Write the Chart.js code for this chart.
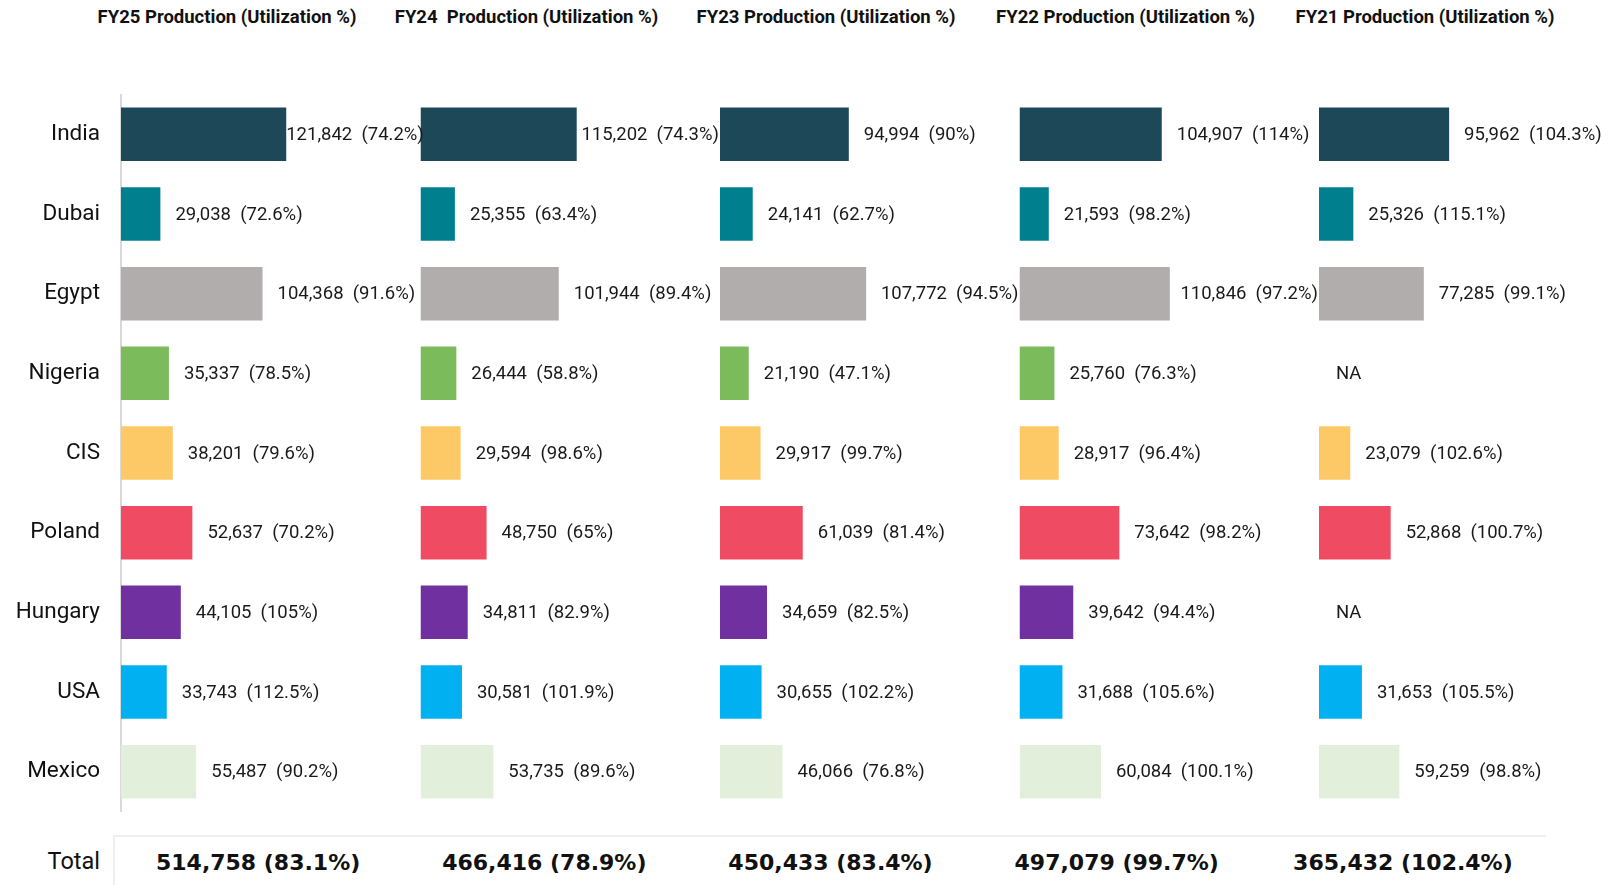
<!DOCTYPE html>
<html>
<head>
<meta charset="utf-8">
<script src="https://cdn.jsdelivr.net/npm/chart.js@4.4.0/dist/chart.umd.min.js"></script>
<style>
html,body{margin:0;padding:0;background:#fff;}
#wrap{position:relative;width:1611px;height:885px;overflow:hidden;background:#fff;}
#wrap canvas{position:absolute;top:0;}
.title{position:absolute;top:7px;line-height:20px;font-family:Roboto,sans-serif;font-weight:700;font-size:18.5px;color:#111;white-space:pre;transform:translateX(-50%);}
#totals{position:absolute;left:113px;top:835px;width:1433px;height:50px;border-top:2px solid #efefef;border-left:2px solid #efefef;display:flex;box-sizing:border-box;}
.tot{flex:1;text-align:center;font-family:'DejaVu Sans',Verdana,sans-serif;font-weight:700;font-size:22px;line-height:52px;color:#111;white-space:pre;}
#totLabel{position:absolute;left:0;width:100px;text-align:right;top:848px;line-height:26px;font-family:Roboto,sans-serif;font-size:23.5px;color:#111;}
</style>
</head>
<body>
<div id="wrap">
  <div id="totLabel">Total</div>
  <div id="totals"></div>
</div>
<script>
// ---------- data ----------
const categories = ['India','Dubai','Egypt','Nigeria','CIS','Poland','Hungary','USA','Mexico'];
const barColors = ['#1c4857','#00808f','#b0adac','#7cbb5b','#fdc966','#ef4c63','#7030a0','#00b0f0','#e2efda'];
const panelTitles = [
  'FY25 Production (Utilization %)',
  'FY24  Production (Utilization %)',
  'FY23 Production (Utilization %)',
  'FY22 Production (Utilization %)',
  'FY21 Production (Utilization %)'
];
const fy25Production  = [121842, 29038, 104368, 35337, 38201, 52637, 44105, 33743, 55487];
const fy25Utilization = [74.2, 72.6, 91.6, 78.5, 79.6, 70.2, 105, 112.5, 90.2];
const fy24Production  = [115202, 25355, 101944, 26444, 29594, 48750, 34811, 30581, 53735];
const fy24Utilization = [74.3, 63.4, 89.4, 58.8, 98.6, 65, 82.9, 101.9, 89.6];
const fy23Production  = [94994, 24141, 107772, 21190, 29917, 61039, 34659, 30655, 46066];
const fy23Utilization = [90, 62.7, 94.5, 47.1, 99.7, 81.4, 82.5, 102.2, 76.8];
const fy22Production  = [104907, 21593, 110846, 25760, 28917, 73642, 39642, 31688, 60084];
const fy22Utilization = [114, 98.2, 97.2, 76.3, 96.4, 98.2, 94.4, 105.6, 100.1];
const fy21Production  = [95962, 25326, 77285, null, 23079, 52868, null, 31653, 59259];
const fy21Utilization = [104.3, 115.1, 99.1, null, 102.6, 100.7, null, 105.5, 98.8];
const totalProduction  = [514758, 466416, 450433, 497079, 365432];
const totalUtilization = [83.1, 78.9, 83.4, 99.7, 102.4];

const panelProduction  = [fy25Production, fy24Production, fy23Production, fy22Production, fy21Production];
const panelUtilization = [fy25Utilization, fy24Utilization, fy23Utilization, fy22Utilization, fy21Utilization];

// ---------- layout ----------
const PAGE_W = 1611, PAGE_H = 885;
const PANEL0 = 121, PITCH = 299.5;
const AREA_W = 280;
const PX_PER_UNIT = 0.001356;
const X_MAX = AREA_W / PX_PER_UNIT;
const AREA_TOP = 94.5, AREA_BOTTOM = 811.5;

const fmt = v => v.toLocaleString('en-US');

const labelPlugin = {
  id: 'valueLabels',
  afterDatasetsDraw(chart) {
    const ctx = chart.ctx;
    const x = chart.scales.x, y = chart.scales.y;
    const ds = chart.data.datasets[0];
    ctx.save();
    ctx.font = '18.5px Roboto';
    ctx.fillStyle = '#1a1a1a';
    ctx.textBaseline = 'middle';
    ctx.textAlign = 'left';
    const panelRight = x.left + PITCH - 1;
    ds.data.forEach((v, idx) => {
      const yc = y.getPixelForValue(idx) + 1;
      if (v == null) { ctx.fillText('NA', x.getPixelForValue(0) + 17, yc); return; }
      const txt = fmt(v) + '  (' + ds.util[idx] + '%)';
      const end = x.getPixelForValue(v);
      const w = ctx.measureText(txt).width;
      const off = Math.max(0, Math.min(15, panelRight - end - w));
      ctx.fillText(txt, end + off, yc);
    });
    ctx.restore();
  }
};

const wrap = document.getElementById('wrap');

panelTitles.forEach((t, i) => {
  const d = document.createElement('div');
  d.className = 'title';
  d.textContent = t;
  d.style.left = (PANEL0 + PITCH * i + 106) + 'px';
  wrap.appendChild(d);
});

const totals = document.getElementById('totals');
totalProduction.forEach((v, i) => {
  const d = document.createElement('div');
  d.className = 'tot';
  d.textContent = fmt(v) + ' (' + totalUtilization[i] + '%)';
  totals.appendChild(d);
});

for (let i = 0; i < 5; i++) {
  const left = PANEL0 + PITCH * i;
  const canvasLeft = i === 0 ? 0 : Math.floor(left - 20);
  const canvasW = Math.min(480, PAGE_W - canvasLeft);
  const padLeft = left - canvasLeft;
  const padRight = canvasW - (left - canvasLeft) - AREA_W;
  const cv = document.createElement('canvas');
  cv.width = canvasW; cv.height = PAGE_H;
  cv.style.left = canvasLeft + 'px';
  cv.style.width = canvasW + 'px';
  cv.style.height = PAGE_H + 'px';
  cv.style.zIndex = 10 - i;
  wrap.appendChild(cv);

  new Chart(cv, {
    type: 'bar',
    data: {
      labels: categories,
      datasets: [{
        data: panelProduction[i],
        util: panelUtilization[i],
        backgroundColor: barColors,
        borderWidth: 0,
        barPercentage: 0.672,
        categoryPercentage: 1
      }]
    },
    options: {
      indexAxis: 'y',
      responsive: false,
      animation: false,
      devicePixelRatio: 1,
      layout: { padding: { left: i === 0 ? 0 : padLeft, right: padRight, top: AREA_TOP, bottom: PAGE_H - AREA_BOTTOM } },
      plugins: { legend: { display: false }, tooltip: { enabled: false }, title: { display: false } },
      scales: {
        x: { display: false, min: 0, max: X_MAX },
        y: {
          display: i === 0,
          afterFit: s => { if (i === 0) s.width = left; },
          grid: { display: false, drawTicks: false },
          border: { display: i === 0, color: '#d9d9d9', width: 2 },
          ticks: { padding: 21, color: '#111', font: { family: 'Roboto', size: 22.5 } }
        }
      }
    },
    plugins: [labelPlugin]
  });
}
</script>
</body>
</html>
